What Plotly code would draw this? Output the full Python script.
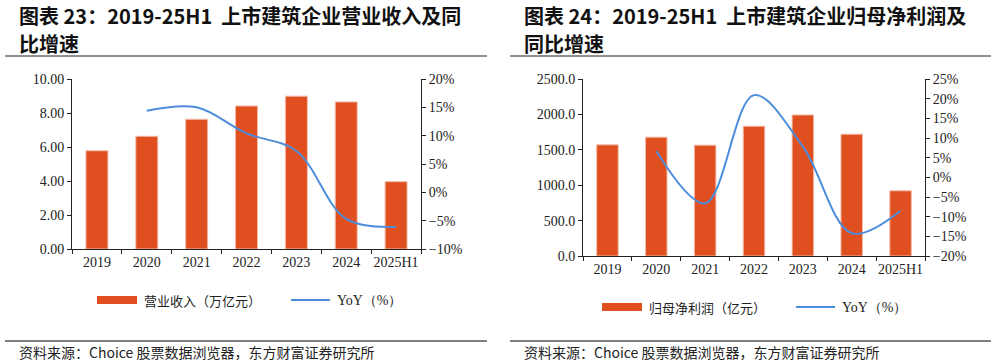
import plotly.graph_objects as go

categories = ["2019", "2020", "2021", "2022", "2023", "2024", "2025H1"]
revenue = [5.78, 6.63, 7.63, 8.41, 8.99, 8.65, 3.96]          # 万亿元
revenue_yoy = [None, 14.4, 15.0, 10.4, 7.3, -4.7, -6.1]       # %
profit = [1570, 1678, 1565, 1833, 1992, 1720, 921]            # 亿元
profit_yoy = [None, 6.7, -6.6, 20.9, 7.8, -14.2, -8.5]        # %

title_left = ["<b>图表 23：2019-25H1  上市建筑企业营业收入及同</b>", "<b>比增速</b>"]
title_right = ["<b>图表 24：2019-25H1  上市建筑企业归母净利润及</b>", "<b>同比增速</b>"]
source_text = "资料来源：Choice 股票数据浏览器，东方财富证券研究所"
legend_bar_left = "营业收入（万亿元）"
legend_bar_right = "归母净利润（亿元）"
legend_line = "YoY（%）"

BAR = "#E04F20"
LINE = "#4C8DDB"
CJK = "Noto Sans CJK SC"
SERIF = "Liberation Serif"
W, H = 997, 364

def px(x):
    return x / W

def py(y):
    return 1 - y / H

fig = go.Figure()

bar_style = dict(marker=dict(color=BAR, line=dict(color="#F3B9A6", width=1)), showlegend=False)
line_style = dict(mode="lines", line=dict(color=LINE, width=2, shape="spline", smoothing=1.0),
                  showlegend=False, connectgaps=False)

fig.add_trace(go.Bar(x=categories, y=revenue, xaxis="x", yaxis="y", **bar_style))
fig.add_trace(go.Scatter(x=categories, y=revenue_yoy, xaxis="x", yaxis="y2", **line_style))
fig.add_trace(go.Bar(x=categories, y=profit, xaxis="x3", yaxis="y3", **bar_style))
fig.add_trace(go.Scatter(x=categories, y=profit_yoy, xaxis="x3", yaxis="y4", **line_style))

tickfont = dict(family=SERIF, size=14, color="#222222")
axline = dict(showline=True, linecolor="#222222", linewidth=1, ticks="outside", automargin=False,
              ticklen=4, tickcolor="#222222", showgrid=False, zeroline=False, tickfont=tickfont)

fig.update_layout(
    width=W, height=H,
    margin=dict(l=0, r=0, t=0, b=0),
    paper_bgcolor="white", plot_bgcolor="white",
    bargap=0.56,
    showlegend=False,
    xaxis=dict(domain=[px(72), px(421)], anchor="y", type="category", tickson="boundaries", tickangle=0, **axline),
    yaxis=dict(domain=[py(249), py(79)], anchor="x", range=[0, 10], dtick=2, tickformat=".2f", **axline),
    yaxis2=dict(overlaying="y", side="right", anchor="x", range=[-10, 20], dtick=5, ticksuffix="%", **axline),
    xaxis3=dict(domain=[px(583), px(925)], anchor="y3", type="category", tickson="boundaries", tickangle=0, **axline),
    yaxis3=dict(domain=[py(256), py(79)], anchor="x3", range=[0, 2500], dtick=500, tickformat=".1f", **axline),
    yaxis4=dict(overlaying="y3", side="right", anchor="x3", range=[-20, 25], dtick=5, ticksuffix="%", **axline),
)

shapes = []
# title and source separators
for x0, x1 in [(5, 487), (510, 991)]:
    shapes.append(dict(type="line", xref="paper", yref="paper", x0=px(x0), x1=px(x1), y0=py(56), y1=py(56),
                       line=dict(color="#222222", width=1.2)))
    shapes.append(dict(type="line", xref="paper", yref="paper", x0=px(x0), x1=px(x1), y0=py(341), y1=py(341),
                       line=dict(color="#555555", width=1.5)))
# legend symbols
for (bx0, bx1, lx0, lx1, ly) in [(97, 137, 291, 330, 300), (602, 642, 796, 835, 307)]:
    shapes.append(dict(type="rect", xref="paper", yref="paper", x0=px(bx0), x1=px(bx1), y0=py(ly + 4), y1=py(ly - 4),
                       fillcolor=BAR, line=dict(width=0)))
    shapes.append(dict(type="line", xref="paper", yref="paper", x0=px(lx0), x1=px(lx1), y0=py(ly), y1=py(ly),
                       line=dict(color=LINE, width=2)))
fig.update_layout(shapes=shapes)

ann = []
def text(x, y, s, size, family, xanchor="left", color="#111111"):
    ann.append(dict(xref="paper", yref="paper", x=px(x), y=py(y), text=s, showarrow=False,
                    xanchor=xanchor, yanchor="middle", align="left",
                    font=dict(family=family, size=size, color=color)))

for x, t in [(17, title_left), (522, title_right)]:
    text(x, 16, t[0], 20, CJK)
    text(x, 43, t[1], 20, CJK)

text(142, 300, legend_bar_left, 13, CJK, color="#222222")
text(335, 300, legend_line, 14, SERIF, color="#222222")
text(647, 307, legend_bar_right, 13, CJK, color="#222222")
text(840, 307, legend_line, 14, SERIF, color="#222222")
text(17, 352, source_text, 14, CJK, color="#222222")
text(522, 352, source_text, 14, CJK, color="#222222")
fig.update_layout(annotations=ann)

fig.write_html("out.html", config={"displayModeBar": False},
               post_script="document.body.style.margin='0';document.body.style.overflow='hidden';")
